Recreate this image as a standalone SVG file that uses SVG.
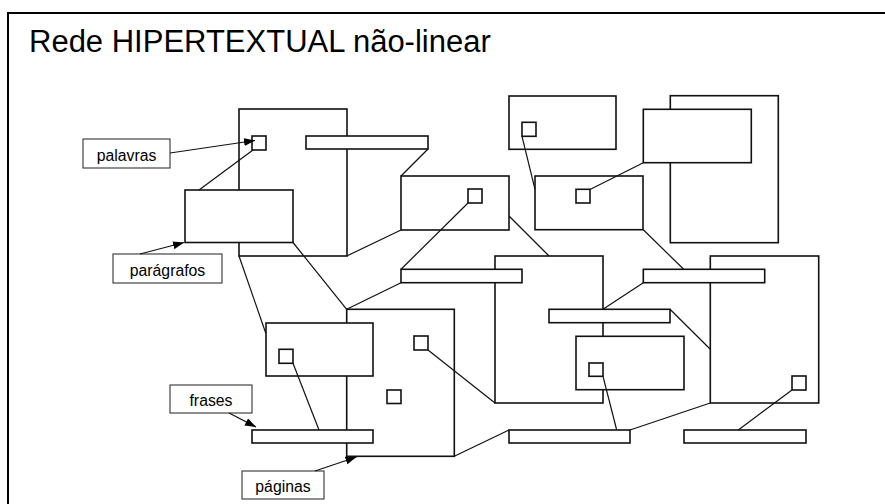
<svg xmlns="http://www.w3.org/2000/svg" width="885" height="504" viewBox="0 0 885 504">
<style>
.b{fill:#fff;stroke:#111;stroke-width:1.6}
.lb{fill:#fff;stroke:#333;stroke-width:1.1}
.t{font-family:"Liberation Sans",Arial,sans-serif;font-size:15.8px;fill:#000;text-anchor:middle}
.c line{stroke:#111;stroke-width:1.2}
</style>
<defs>
<marker id="ah" markerUnits="userSpaceOnUse" markerWidth="12" markerHeight="9" refX="11" refY="4" orient="auto">
<path d="M0,0 L11,4 L0,8 z" fill="#000"/>
</marker>
</defs>
<rect width="885" height="504" fill="#fff"/>
<path d="M8,520 V13 H900" fill="none" stroke="#000" stroke-width="2"/>
<text x="29" y="52" font-family="'Liberation Sans',Arial,sans-serif" font-size="31" fill="#000">Rede HIPERTEXTUAL não-linear</text>

<g id="pageA"><rect class="b" x="239" y="109" width="108" height="147"/></g>
<g id="bar1"><rect class="b" x="306" y="136" width="122" height="13"/></g>
<g id="paraA"><rect class="b" x="185" y="190" width="108" height="52.5"/></g>
<g id="sqA"><rect class="b" x="252" y="136" width="14" height="14"/></g>
<g id="pageI"><rect class="b" x="670.3" y="95.7" width="108" height="147"/></g>
<g id="boxH"><rect class="b" x="643.3" y="109.3" width="108" height="53.4"/></g>
<g id="boxF"><rect class="b" x="509" y="96" width="107" height="53.3"/></g>
<g id="sqF"><rect class="b" x="522" y="122.3" width="14" height="14"/></g>
<g id="boxG"><rect class="b" x="535" y="176" width="108" height="53.7"/></g>
<g id="sqG"><rect class="b" x="576" y="189.3" width="14" height="13.7"/></g>
<g id="box2"><rect class="b" x="401" y="176" width="108" height="54"/></g>
<g id="sq2"><rect class="b" x="468" y="189" width="14" height="14"/></g>
<g id="pageC"><rect class="b" x="495" y="256" width="108" height="147"/></g>
<g id="bar2"><rect class="b" x="401" y="269.3" width="121" height="13.4"/></g>
<g id="bar3"><rect class="b" x="549" y="309.3" width="121" height="13.4"/></g>
<g id="boxD"><rect class="b" x="576" y="336.3" width="108" height="53.4"/></g>
<g id="sqD"><rect class="b" x="589" y="363" width="14" height="13.3"/></g>
<g id="pageE"><rect class="b" x="710.3" y="256" width="108.4" height="147"/></g>
<g id="bar6"><rect class="b" x="643.3" y="269.3" width="121.4" height="13.4"/></g>
<g id="sqE"><rect class="b" x="792" y="376" width="14" height="14"/></g>
<g id="pageB"><rect class="b" x="346.7" y="309.3" width="107.6" height="147"/></g>
<g id="sqB1"><rect class="b" x="414" y="336" width="14" height="14"/></g>
<g id="sqB2"><rect class="b" x="387" y="390" width="14" height="13.5"/></g>
<g id="boxC"><rect class="b" x="266" y="323" width="107" height="53"/></g>
<g id="sqC"><rect class="b" x="279" y="349.3" width="14" height="14"/></g>
<g id="bar4"><rect class="b" x="252" y="430" width="121" height="13"/></g>
<g id="bar5"><rect class="b" x="509" y="430" width="121" height="13"/></g>
<g id="bar7"><rect class="b" x="684" y="430" width="122" height="13"/></g>

<g id="lblPalavras"><rect class="lb" x="83" y="139" width="87" height="29"/><text class="t" x="126.5" y="161">palavras</text></g>
<g id="lblParagrafos"><rect class="lb" x="113" y="254" width="109" height="29"/><text class="t" x="167.5" y="276">parágrafos</text></g>
<g id="lblFrases"><rect class="lb" x="170" y="385" width="82" height="28"/><text class="t" x="211" y="406">frases</text></g>
<g id="lblPaginas"><rect class="lb" x="242" y="471" width="82" height="28"/><text class="t" x="283" y="492">páginas</text></g>

<g id="connectors" class="c">
<line x1="170" y1="153" x2="255" y2="140.5" marker-end="url(#ah)"/>
<line x1="253" y1="150" x2="199" y2="190"/>
<line x1="140" y1="254" x2="184" y2="242.5" marker-end="url(#ah)"/>
<line x1="428" y1="149" x2="401" y2="176"/>
<line x1="346.7" y1="256" x2="401" y2="230"/>
<line x1="468" y1="203" x2="401" y2="269.3"/>
<line x1="509" y1="216" x2="549" y2="256"/>
<line x1="293" y1="242.5" x2="346.7" y2="309.3"/>
<line x1="401" y1="282.7" x2="346.7" y2="309.3"/>
<line x1="239" y1="256" x2="265.7" y2="333"/>
<line x1="293" y1="363.3" x2="319" y2="430"/>
<line x1="229" y1="413" x2="256" y2="427" marker-end="url(#ah)"/>
<line x1="315" y1="471" x2="356.5" y2="457" marker-end="url(#ah)"/>
<line x1="428" y1="350" x2="495" y2="403"/>
<line x1="454.3" y1="456.3" x2="509" y2="430"/>
<line x1="603" y1="376.3" x2="616.7" y2="430"/>
<line x1="630" y1="430" x2="710.3" y2="403"/>
<line x1="643.3" y1="282.7" x2="603" y2="309.3"/>
<line x1="670" y1="309.3" x2="710.3" y2="349.3"/>
<line x1="792" y1="390" x2="738.3" y2="430"/>
<line x1="522" y1="136.3" x2="535" y2="189.3"/>
<line x1="590" y1="189.5" x2="643.3" y2="162.7"/>
<line x1="643.3" y1="229.7" x2="683.7" y2="269.3"/>
</g>
</svg>
